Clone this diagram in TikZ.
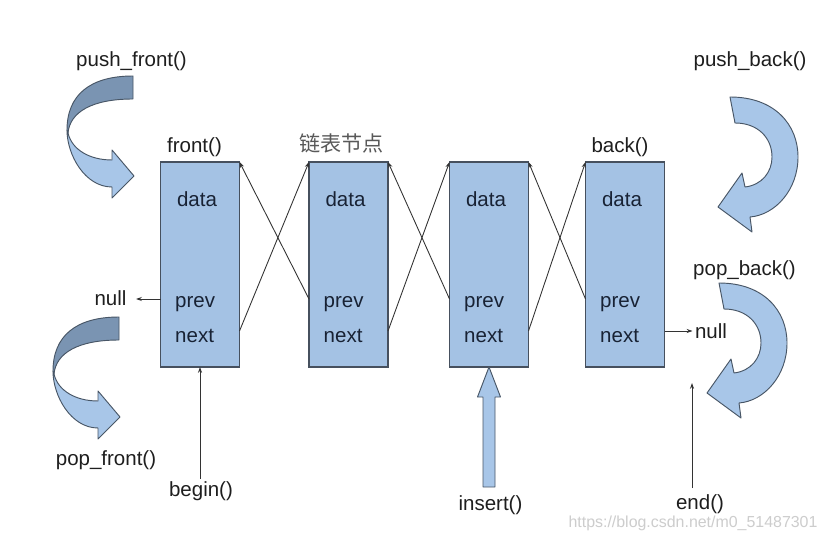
\documentclass[tikz,border=0pt]{standalone}
\usepackage{fontspec}
\setmainfont{Liberation Sans}
\newfontfamily\cjkfont{Noto Sans CJK SC}
\usepackage{tikz}
\usetikzlibrary{
  arrows.meta,
  calc
}
\definecolor{boxblue}{RGB}{164,194,228}
\definecolor{boxedge}{RGB}{70,80,94}
\definecolor{fieldink}{RGB}{24,34,52}
\definecolor{labelink}{RGB}{30,30,30}
\definecolor{ribbonlight}{RGB}{168,198,232}
\definecolor{ribbondark}{RGB}{122,148,178}
\definecolor{ribbonedge}{RGB}{72,86,102}
\definecolor{markgray}{RGB}{205,205,205}
\newcommand{\bodyfont}{\fontsize{17.5}{20}\selectfont}

\tikzset{
  listbox/.style={draw=boxedge, line width=1.1pt, fill=boxblue,
    minimum width=2.37cm, minimum height=6.15cm, inner sep=0pt, outer sep=0pt},
  field/.style={font=\bodyfont, text=fieldink, inner sep=0pt},
  lbl/.style={font=\bodyfont, text=labelink, inner sep=2pt},
  ptr/.style={-{Stealth[length=5pt,width=3.5pt]}, draw=black!80, line width=0.75pt},
  ribbonback/.style={fill=ribbondark, draw=ribbonedge, line width=0.8pt, line join=round},
  ribbonfront/.style={fill=ribbonlight, draw=ribbonedge, line width=0.8pt, line join=round},
  pics/frontarrow/.style={code={
    \draw[ribbonback] (0,0) .. controls (-43,0) and (-66,19) .. (-66,54) -- (-65,57)
      .. controls (-63,36) and (-41,23) .. (0,23) -- cycle;
    \draw[ribbonfront] (-66,54) .. controls (-66,79) and (-48,111) .. (-21,111)
      -- (-21,122) -- (1,100) -- (-21,74) -- (-21,84)
      .. controls (-43,84) and (-61,74) .. (-65,57) -- cycle;
  }},
  pics/backarrow/.style={code={
    \draw[ribbonfront] (0,0) .. controls (45,0) and (68,28) .. (68,60)
      .. controls (68,93) and (45,118) .. (20,120) -- (22,135) -- (-12,110) -- (12,76) -- (15,90)
      .. controls (32,88) and (42,75) .. (42,60) .. controls (42,41) and (28,26) .. (5,26) -- cycle;
  }}
}

\begin{document}
\begin{tikzpicture}[x=0.03cm, y=-0.03cm]
  \path[use as bounding box, fill=white] (0,0) rectangle (823,542);

  \foreach \i/\x in {1/200,2/348.5,3/489,4/625}{
    \node[listbox] (n\i) at (\x,264.5) {};
    \node[field, anchor=base] (data\i) at (\x-3,207) {data};
    \node[field, anchor=base west] (prev\i) at (\x-25,307) {prev};
    \node[field, anchor=base west] (next\i) at (\x-25,342) {next};
    \coordinate (pr\i) at (\x,299);
    \coordinate (nx\i) at (\x,331);
  }
  \foreach \a/\b in {1/2,2/3,3/4}{
    \draw[ptr] (n\a.east |- nx\a) -- (n\b.north west);
    \draw[ptr] (n\b.west |- pr\b) -- (n\a.north east);
  }

  \node[lbl, anchor=base] (pushfront) at (131.5,67) {push\_front()};
  \node[lbl, anchor=base] (front) at (194.5,153) {front()};
  \node[lbl, anchor=base, font=\cjkfont\fontsize{18}{20}\selectfont, text=black!65] (caption) at (341.5,152) {链表节点};
  \node[lbl, anchor=base] (back) at (620,153) {back()};
  \node[lbl, anchor=base] (pushback) at (750,67) {push\_back()};
  \node[lbl, anchor=base] (popback) at (744.5,275) {pop\_back()};
  \node[lbl, anchor=base, inner xsep=8pt] (nullL) at (110.5,305) {null};
  \node[lbl, anchor=base] (nullR) at (711,338) {null};
  \node[lbl, anchor=base] (popfront) at (106,465) {pop\_front()};
  \node[lbl, anchor=base] (beginlbl) at (201,496) {begin()};
  \node[lbl, anchor=base] (insertlbl) at (490.5,510) {insert()};
  \node[lbl, anchor=base] (endlbl) at (700,509) {end()};
  \node[anchor=base, font=\fontsize{13.6}{16}\selectfont, text=markgray, inner sep=0pt] (mark) at (693,527) {https://blog.csdn.net/m0\_51487301};

  \draw[ptr] (n1.west |- pr1) -- (nullL.east |- pr1);
  \draw[ptr] (n4.east |- nx4) -- (nullR.west |- nx4);
  \draw[ptr] (n1.south |- beginlbl.north) -- (n1.south);
  \coordinate (endtip) at (692,383);
  \draw[ptr, shorten <=3pt] (endtip |- endlbl.north) -- (endtip);
  \draw[ribbonfront] (n3.south) -- ++(11.5,30) -- ++(-5.5,0) -- ++(0,90) -- ++(-12,0)
    -- ++(0,-90) -- ++(-5.5,0) -- cycle;

  \pic at (133,76) {frontarrow};
  \pic at (119,317) {frontarrow};
  \pic at (730,97) {backarrow};
  \pic at (719,283) {backarrow};
\end{tikzpicture}
\end{document}
